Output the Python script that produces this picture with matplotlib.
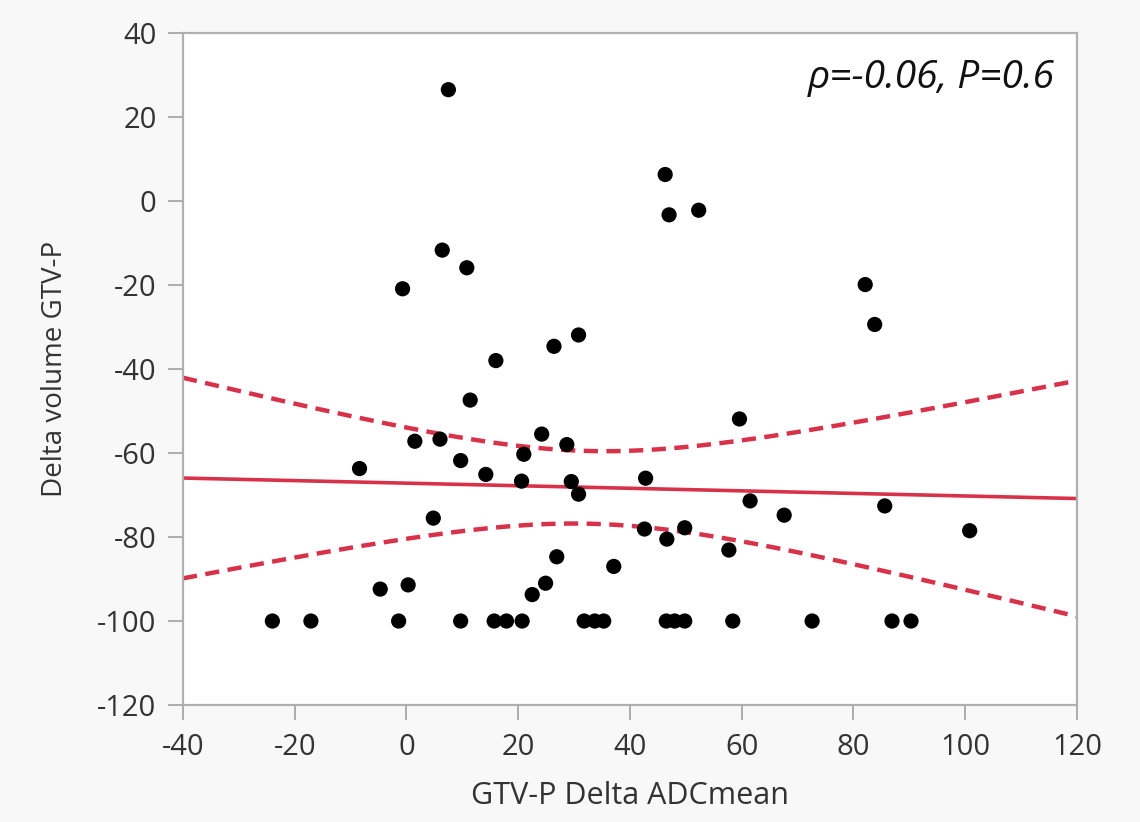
import numpy as np
import matplotlib
matplotlib.use("Agg")
import matplotlib.pyplot as plt

# ---- data ----
x_upper = [7.5, 6.4, 10.8, -0.7, 16.0, 26.4, 30.8, 46.3, 47.0, 52.3, 82.1, 83.8]
y_upper = [26.5, -11.7, -15.9, -20.9, -38.0, -34.6, -31.9, 6.3, -3.3, -2.2, -19.9, -29.4]

x_mid = [11.4, 1.5, 6.0, 24.2, 28.7, 21.0, -8.4, 9.7, 14.2, 20.6, 29.5, 30.8,
         4.8, 26.9, 24.9, 22.5, -4.7, 0.3, 59.6, 42.8, 61.5, 67.6, 85.6, 100.8,
         42.6, 46.6, 49.8, 57.7, 37.1]
y_mid = [-47.4, -57.2, -56.7, -55.5, -58.0, -60.3, -63.7, -61.8, -65.1, -66.7, -66.8, -69.8,
         -75.5, -84.7, -91.0, -93.7, -92.4, -91.4, -51.9, -66.0, -71.4, -74.8, -72.6, -78.5,
         -78.1, -80.5, -77.8, -83.1, -87.0]

x_floor = [-24.0, -17.1, -1.4, 9.7, 15.7, 17.9, 20.7, 31.8, 33.7, 35.3, 46.5, 48.0,
           49.8, 58.4, 72.6, 86.9, 90.3]
y_floor = [-100.0] * len(x_floor)

x_ticks = [-40, -20, 0, 20, 40, 60, 80, 100, 120]
y_ticks = [-120, -100, -80, -60, -40, -20, 0, 20, 40]
x_label = "GTV-P Delta ADCmean"
y_label = "Delta volume GTV-P"
annotation = "\u03c1=-0.06, P=0.6"

x = np.array(x_upper + x_mid + x_floor)
y = np.array(y_upper + y_mid + y_floor)

# ---- linear fit with 95% confidence band of the mean ----
n = len(x)
b, a = np.polyfit(x, y, 1)
resid = y - (a + b * x)
s = np.sqrt(np.sum(resid ** 2) / (n - 2))
xm = x.mean()
sxx = np.sum((x - xm) ** 2)
t = 2.0025  # t(0.975, 56)
xx = np.linspace(-40, 120, 300)
yy = a + b * xx
half = t * s * np.sqrt(1.0 / n + (xx - xm) ** 2 / sxx)

plt.rcParams['font.family'] = ['Open Sans', 'DejaVu Sans']
plt.rcParams['axes.unicode_minus'] = False
fig = plt.figure(figsize=(11.4, 8.22), dpi=100, facecolor='#f8f8f8')
ax = fig.add_axes([0.1605, 0.1423, 0.9447 - 0.1605, 0.9599 - 0.1423])
ax.set_facecolor('white')

red = '#d8324b'
ax.plot(xx, yy, color=red, lw=2.6, zorder=2)
ax.plot(xx, yy + half, color=red, lw=3.2, ls=(0, (3.2, 1.9)), zorder=2)
ax.plot(xx, yy - half, color=red, lw=3.2, ls=(0, (3.2, 1.9)), zorder=2)
ax.scatter(x, y, s=120, color='black', edgecolors='none', zorder=3)

ax.set_xlim(-40, 120)
ax.set_ylim(-120, 40)
ax.set_xticks(x_ticks)
ax.set_yticks(y_ticks)
ax.tick_params(axis='both', direction='out', length=11, width=1.2, color='#a0a0a0',
               labelsize=21, labelcolor='#333333')
ax.tick_params(axis='x', pad=9)
ax.tick_params(axis='y', pad=8)
for side in ['left', 'bottom', 'top', 'right']:
    ax.spines[side].set_color('#b0b0b0')
    ax.spines[side].set_linewidth(1.6)

ax.set_xlabel(x_label, fontsize=22, color='#333333', labelpad=14)
ax.set_ylabel(y_label, fontsize=20, color='#333333', labelpad=20)

ax.text(0.975, 0.933, annotation, transform=ax.transAxes, ha='right', va='center',
        fontsize=28, style='italic', color='#111111')

fig.savefig('out.png', dpi=100, facecolor=fig.get_facecolor())
